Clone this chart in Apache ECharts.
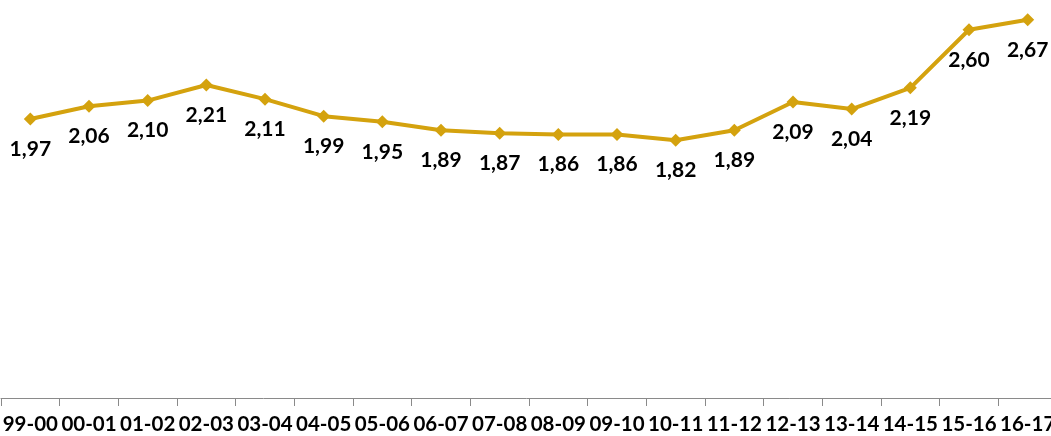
<!DOCTYPE html>
<html>
<head>
<meta charset="utf-8">
<script src="https://cdn.jsdelivr.net/npm/echarts@6/dist/echarts.min.js"></script>
<style>
html,body{margin:0;padding:0;background:#fff;}
#c{width:1051px;height:436px;}
</style>
</head>
<body>
<div id="c"></div>
<script>
const categories = ['99-00','00-01','01-02','02-03','03-04','04-05','05-06','06-07','07-08','08-09','09-10','10-11','11-12','12-13','13-14','14-15','15-16','16-17'];
const values = [1.97,2.06,2.10,2.21,2.11,1.99,1.95,1.89,1.87,1.86,1.86,1.82,1.89,2.09,2.04,2.19,2.60,2.67];

const chart = echarts.init(document.getElementById('c'));
const font = 'Lato, "Open Sans", sans-serif';
chart.setOption({
  animation: false,
  grid: {left: 1, width: 1056, top: 0, bottom: 38, containLabel: false, outerBoundsMode: 'none'},
  xAxis: {
    type: 'category',
    data: categories,
    boundaryGap: true,
    axisLine: {show: true, lineStyle: {color: '#8a8a8a', width: 1}},
    axisTick: {show: true, length: 8, lineStyle: {color: '#8a8a8a', width: 1}},
    axisLabel: {interval: 0, color: '#000', fontWeight: 'bold', fontSize: 20.5, fontFamily: font, margin: 16}
  },
  yAxis: {type: 'value', min: 0, max: 2.81, show: false, splitLine: {show: false}},
  series: [{
    type: 'line',
    data: values,
    symbol: 'diamond',
    symbolSize: 13,
    lineStyle: {color: '#D4A20E', width: 4},
    itemStyle: {color: '#D4A20E'},
    label: {
      show: true,
      position: 'bottom',
      distance: 13,
      color: '#000',
      fontWeight: 'bold',
      fontSize: 21,
      fontFamily: font,
      formatter: p => p.value.toFixed(2).replace('.', ',')
    }
  }]
});
</script>
</body>
</html>
